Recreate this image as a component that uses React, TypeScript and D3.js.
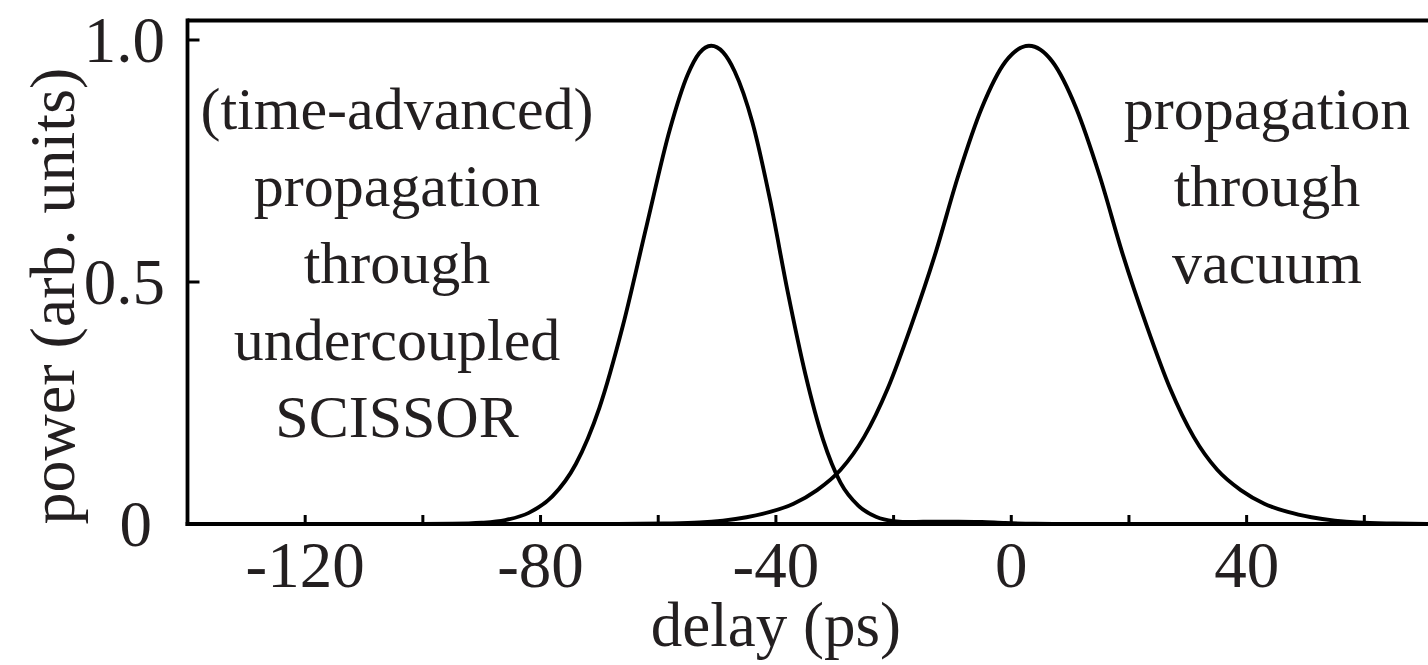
import React from 'react';
import * as d3 from 'd3';

// delay (ps) / power (arb. units)
const scissorDelay = [-140, -110, -100, -95, -90, -86, -82, -78, -74, -70, -66, -62, -58, -55, -53, -51, -49, -47, -44, -41, -38, -35, -32, -29, -26, -23, -20, -17, -13, -9, -5, -1, 4, 10, 80];
const scissorPower = [0, 0, 0.0001, 0.0005, 0.0026, 0.008, 0.023, 0.057, 0.124, 0.24, 0.41, 0.615, 0.816, 0.928, 0.973, 0.988, 0.975, 0.935, 0.83, 0.67, 0.48, 0.31, 0.175, 0.085, 0.038, 0.015, 0.006, 0.004, 0.005, 0.005, 0.004, 0.002, 0.0005, 0, 0];

const vacuumDelay = [-140, -67, -59, -53, -49, -45, -41, -37, -33, -29, -25, -21, -17, -13, -9, -5, -1, 3, 7, 11, 15, 19, 23, 27, 31, 35, 39, 43, 47, 51, 55, 59, 65, 73, 80];
const vacuumPower = [0, 0, 0.001, 0.003, 0.007, 0.014, 0.025, 0.042, 0.07, 0.112, 0.18, 0.28, 0.41, 0.555, 0.72, 0.86, 0.955, 0.988, 0.955, 0.86, 0.72, 0.555, 0.41, 0.28, 0.18, 0.112, 0.07, 0.042, 0.025, 0.014, 0.007, 0.003, 0.001, 0, 0];

const xTicks = [-140, -120, -100, -80, -60, -40, -20, 0, 20, 40, 60, 80];
const xTickLabels = [-120, -80, -40, 0, 40];
const yTicks = [0, 0.5, 1.0];
const yTickLabels = ['0', '0.5', '1.0'];

const leftNote = ['(time-advanced)', 'propagation', 'through', 'undercoupled', 'SCISSOR'];
const rightNote = ['propagation', 'through', 'vacuum'];

const W = 1428;
const H = 665;
const FONT = '"Liberation Serif", "Times New Roman", serif';

export default function App() {
  const x = d3.scaleLinear().domain([-140, 80]).range([187.5, 1482]);
  const y = d3.scaleLinear().domain([0, 1]).range([524, 40]);
  const top = 20.5;

  const line = d3.line<[number, number]>()
    .x(d => x(d[0]))
    .y(d => y(d[1]))
    .curve(d3.curveMonotoneX);

  const scissor = scissorDelay.map((d, i) => [d, scissorPower[i]] as [number, number]);
  const vacuum = vacuumDelay.map((d, i) => [d, vacuumPower[i]] as [number, number]);

  const x0 = x(-140);
  const y0 = y(0);

  return (
    <svg width={W} height={H} style={{ position: 'absolute', left: 0, top: 0, background: '#fff' }}>
      <defs>
        <clipPath id="plot">
          <rect x={x0} y={top} width={W - x0} height={y0 - top} />
        </clipPath>
      </defs>

      {/* curves */}
      <g clipPath="url(#plot)" fill="none" stroke="#000" strokeWidth={3.9}>
        <path d={line(scissor) || ''} />
        <path d={line(vacuum) || ''} />
      </g>

      {/* frame */}
      <g stroke="#000" strokeWidth={3.8} fill="none">
        <line x1={x0} x2={W} y1={top} y2={top} />
        <line x1={x0} x2={x0} y1={top - 1.9} y2={y0 + 1.9} />
        <line x1={x0 - 1.9} x2={W} y1={y0} y2={y0} />
      </g>

      {/* ticks */}
      <g stroke="#000" strokeWidth={3}>
        {xTicks.map(t => (
          <line key={'xt' + t} x1={x(t)} x2={x(t)} y1={y0} y2={y0 - 9} />
        ))}
        {yTicks.map(t => (
          <line key={'yt' + t} x1={x0} x2={x0 + 12} y1={y(t)} y2={y(t)} />
        ))}
      </g>

      <g fontFamily={FONT} fontSize={65} fill="#231f20">
        {xTickLabels.map(t => (
          <text key={'xl' + t} x={x(t)} y={587} textAnchor="middle">{String(t)}</text>
        ))}
        {yTicks.map((t, i) => (
          <text key={'yl' + t} x={t === 0 ? 152 : 165} y={y(t) + 22} textAnchor="end">{yTickLabels[i]}</text>
        ))}
        <text x={x(-40)} y={646} fontSize={63} textAnchor="middle">delay (ps)</text>
        <text transform={`translate(74,296) rotate(-90)`} fontSize={64} textAnchor="middle">power (arb. units)</text>
      </g>

      <g fontFamily={FONT} fontSize={60} fill="#231f20" textAnchor="middle">
        {leftNote.map((s, i) => (
          <text key={'ln' + i} x={397} y={129 + i * 77}>{s}</text>
        ))}
        {rightNote.map((s, i) => (
          <text key={'rn' + i} x={1267} y={129 + i * 77}>{s}</text>
        ))}
      </g>
    </svg>
  );
}
